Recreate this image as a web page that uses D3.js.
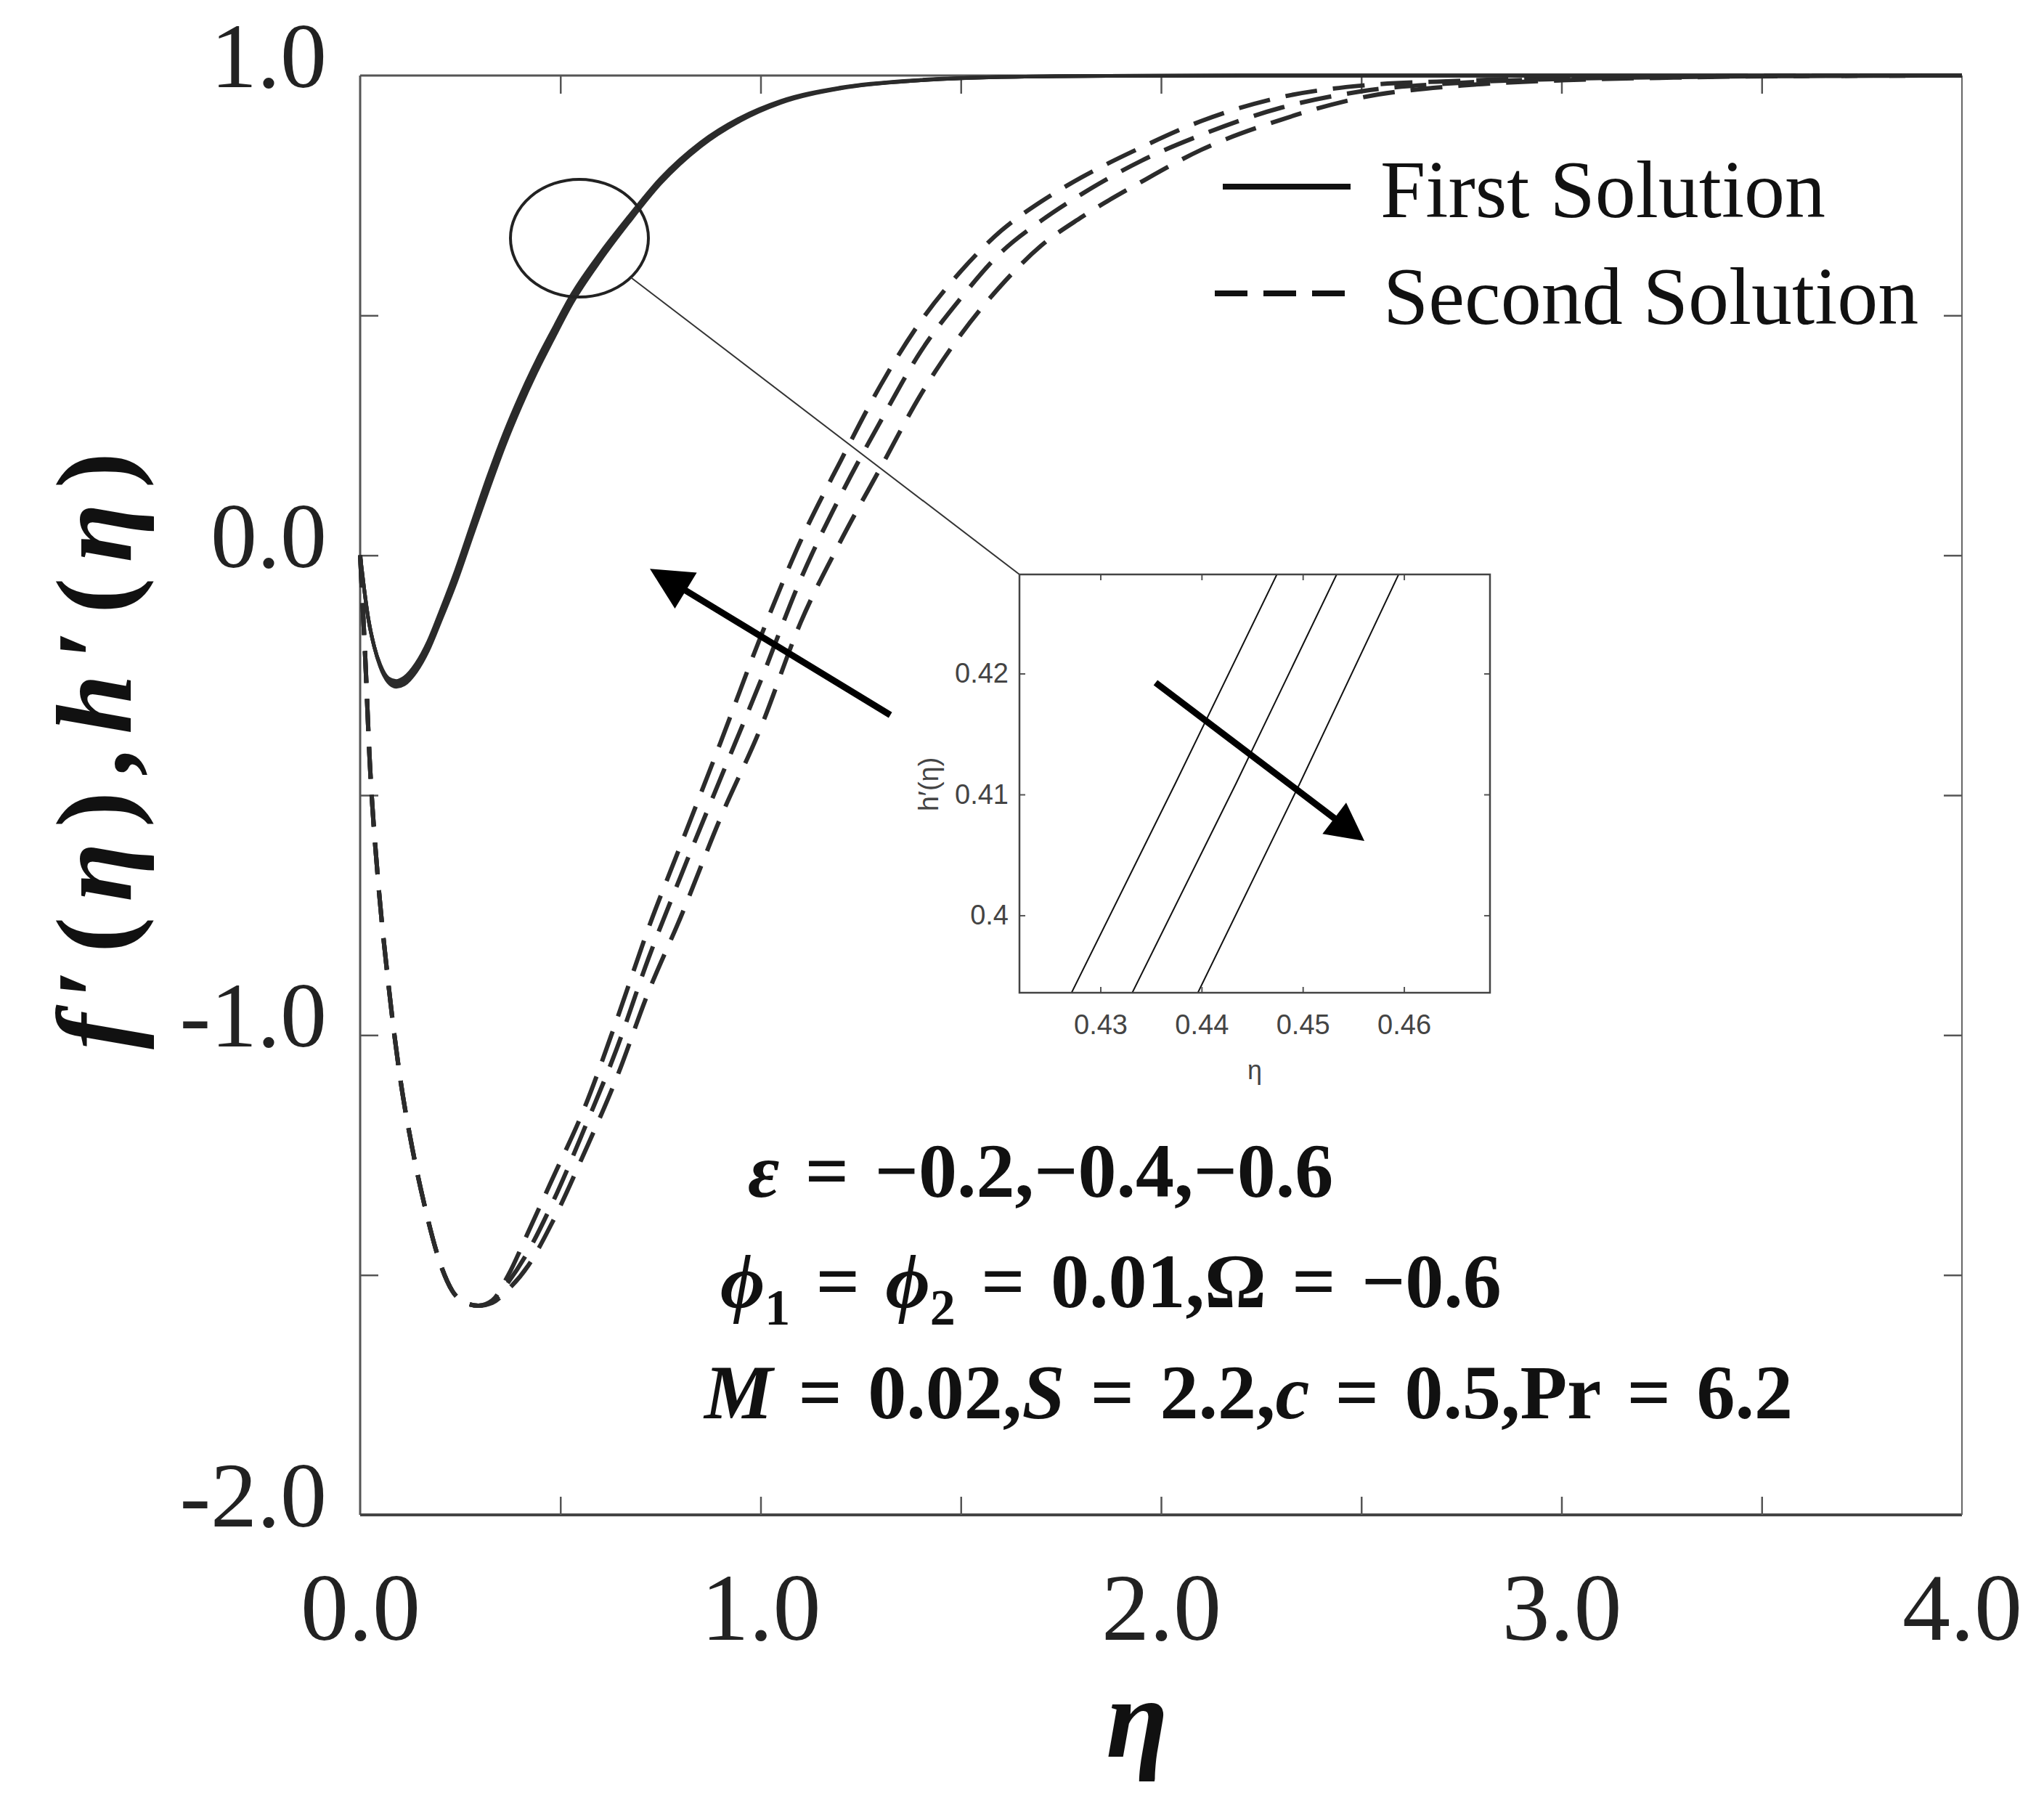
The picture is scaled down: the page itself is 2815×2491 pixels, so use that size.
<!DOCTYPE html>
<html>
<head>
<meta charset="utf-8">
<script src="https://cdnjs.cloudflare.com/ajax/libs/d3/7.8.5/d3.min.js"></script>
<style>
  body { margin: 0; background: #fff; }
  svg { display: block; }
</style>
</head>
<body>
<div id="chart"></div>
<script>
// Values (eta on x, f'(eta), h'(eta) on y)

// first solution, eta grid shared by the three solid curves
const etaFirst = [0, 0.01, 0.02, 0.035, 0.05, 0.07, 0.09, 0.11, 0.14, 0.17, 0.2, 0.24, 0.28, 0.32, 0.36, 0.4, 0.44, 0.48, 0.53, 0.6, 0.67, 0.75, 0.85, 0.95, 1.05, 1.2, 1.4, 1.6, 1.8, 2.2, 4.0];
const firstEpsA = [0, -0.07, -0.13, -0.19, -0.228, -0.256, -0.262, -0.255, -0.226, -0.18, -0.118, -0.03, 0.068, 0.165, 0.254, 0.333, 0.404, 0.468, 0.545, 0.63, 0.705, 0.785, 0.86, 0.912, 0.947, 0.975, 0.991, 0.997, 0.999, 1.0, 1.0];
const firstEpsB = [0, -0.07, -0.13, -0.19, -0.23, -0.26, -0.268, -0.262, -0.234, -0.189, -0.128, -0.042, 0.055, 0.151, 0.241, 0.321, 0.393, 0.458, 0.536, 0.622, 0.699, 0.78, 0.856, 0.909, 0.945, 0.974, 0.99, 0.997, 0.999, 1.0, 1.0];
const firstEpsC = [0, -0.07, -0.13, -0.19, -0.232, -0.264, -0.274, -0.269, -0.242, -0.198, -0.138, -0.054, 0.042, 0.137, 0.228, 0.309, 0.382, 0.448, 0.527, 0.615, 0.693, 0.775, 0.852, 0.906, 0.943, 0.973, 0.99, 0.997, 0.999, 1.0, 1.0];

// second solution, eta grid shared by the three dashed curves
const etaSecond = [0, 0.006, 0.012, 0.024, 0.044, 0.068, 0.1, 0.13, 0.16, 0.2, 0.23, 0.26, 0.295, 0.33, 0.37, 0.42, 0.48, 0.56, 0.64, 0.72, 0.8, 0.9, 1.0, 1.1, 1.2, 1.3, 1.4, 1.5, 1.6, 1.7, 1.8, 1.95, 2.1, 2.3, 2.5, 2.75, 3.0, 3.3, 3.6, 4.0];
const secondEpsA = [0, -0.1, -0.2, -0.43, -0.67, -0.874, -1.09, -1.235, -1.352, -1.476, -1.533, -1.557, -1.564, -1.553, -1.5, -1.41, -1.3, -1.152, -0.97, -0.777, -0.605, -0.39, -0.17, 0.03, 0.197, 0.355, 0.488, 0.592, 0.676, 0.737, 0.787, 0.85, 0.905, 0.955, 0.979, 0.989, 0.995, 0.998, 1.0, 1.0];
const secondEpsB = [0, -0.1, -0.2, -0.43, -0.67, -0.874, -1.09, -1.235, -1.352, -1.476, -1.533, -1.557, -1.564, -1.556, -1.515, -1.45, -1.35, -1.195, -1.03, -0.84, -0.67, -0.465, -0.262, -0.05, 0.125, 0.28, 0.425, 0.536, 0.631, 0.697, 0.752, 0.822, 0.876, 0.933, 0.967, 0.985, 0.993, 0.997, 0.999, 1.0];
const secondEpsC = [0, -0.1, -0.2, -0.43, -0.67, -0.874, -1.09, -1.235, -1.352, -1.476, -1.533, -1.557, -1.564, -1.558, -1.53, -1.48, -1.39, -1.245, -1.09, -0.91, -0.755, -0.547, -0.36, -0.14, 0.03, 0.183, 0.335, 0.46, 0.562, 0.645, 0.704, 0.778, 0.845, 0.908, 0.954, 0.979, 0.99, 0.996, 0.999, 1.0];

// zoomed inset: h'(eta) near eta = 0.44
const etaInsetA = [0.4262, 0.4374, 0.4486];
const etaInsetB = [0.4322, 0.4434, 0.4545];
const etaInsetC = [0.4387, 0.4497, 0.4606];
const hInset = [0.392, 0.4109, 0.4302];

// axis ticks
const xTicks = [0, 1, 2, 3, 4];
const xTickLabels = ["0.0", "1.0", "2.0", "3.0", "4.0"];
const xMarks = [0.5, 1, 1.5, 2, 2.5, 3, 3.5];
const yTicks = [-2, -1, 0, 1];
const yTickLabels = ["-2.0", "-1.0", "0.0", "1.0"];
const yMarks = [-1.5, -1, -0.5, 0, 0.5];
const insetXTicks = [0.43, 0.44, 0.45, 0.46];
const insetYTicks = [0.4, 0.41, 0.42];
const legendLabels = ["First Solution", "Second Solution"];

// Set dimensions and margins for the plot
const width = 2815, height = 2491;
const margin = {top: 104, right: 113, bottom: 405, left: 496};
const serif = "'Liberation Serif', 'Times New Roman', serif";
const sans = "'Liberation Sans', Arial, sans-serif";
const ink = "#2b2b2b";
const sp = "\u2004"; // slightly wider space used around "=" in the parameter block

const svg = d3.select("#chart")
  .append("svg")
  .attr("width", width)
  .attr("height", height)
  .style("background", "#fff");

// scales
const x = d3.scaleLinear().domain([0, 4]).range([margin.left, width - margin.right]);
const y = d3.scaleLinear().domain([-2, 1]).range([height - margin.bottom, margin.top]);

/*
  Frame and ticks (all ticks point inward, like the original)
*/
const x0 = x(0), x1 = x(4), yb = y(-2), yt = y(1);

svg.append("line").attr("x1", x0).attr("x2", x0).attr("y1", yt).attr("y2", yb)
  .attr("stroke", "#555").attr("stroke-width", 3);
svg.append("line").attr("x1", x0).attr("x2", x1).attr("y1", yb).attr("y2", yb)
  .attr("stroke", "#444").attr("stroke-width", 4);
svg.append("line").attr("x1", x1).attr("x2", x1).attr("y1", yt).attr("y2", yb)
  .attr("stroke", "#666").attr("stroke-width", 2);
svg.append("line").attr("x1", x0).attr("x2", x1).attr("y1", yt).attr("y2", yt)
  .attr("stroke", "#555").attr("stroke-width", 3);

function tickMarks(axis, tx, ty) {
  const g = svg.append("g")
    .attr("transform", `translate(${tx},${ty})`)
    .call(axis.tickSize(-25).tickFormat(""));
  g.select(".domain").remove();
  g.selectAll(".tick line").attr("stroke", "#555").attr("stroke-width", 2.5);
}
tickMarks(d3.axisBottom(x).tickValues(xMarks), 0, yb);
tickMarks(d3.axisTop(x).tickValues(xMarks), 0, yt);
tickMarks(d3.axisLeft(y).tickValues(yMarks), x0, 0);
tickMarks(d3.axisRight(y).tickValues(yMarks), x1, 0);

// tick labels
const xLab = svg.append("g")
  .attr("transform", `translate(0,${yb})`)
  .call(d3.axisBottom(x).tickValues(xTicks).tickSize(0).tickPadding(78)
        .tickFormat((d, i) => xTickLabels[i]));
xLab.select(".domain").remove();
xLab.selectAll("text").attr("font-family", serif).attr("font-size", 132).attr("fill", "#222");

const yLab = svg.append("g")
  .attr("transform", `translate(${x0},0)`)
  .call(d3.axisLeft(y).tickValues(yTicks).tickSize(0).tickPadding(46)
        .tickFormat((d, i) => yTickLabels[i]));
yLab.select(".domain").remove();
yLab.selectAll("text").attr("font-family", serif).attr("font-size", 128)
  .attr("fill", "#222").attr("dy", "0.12em");

// axis titles
svg.append("text")
  .attr("x", 1566).attr("y", 2420)
  .attr("text-anchor", "middle")
  .attr("font-family", serif).attr("font-size", 156)
  .attr("font-style", "italic").attr("font-weight", "bold")
  .attr("fill", "#111")
  .text("η");

const yTitle = svg.append("text")
  .attr("transform", "translate(180,1034) rotate(-90)")
  .attr("text-anchor", "middle")
  .attr("font-family", serif).attr("font-size", 148)
  .attr("font-weight", "bold").attr("fill", "#111")
  .attr("textLength", 822).attr("lengthAdjust", "spacing");
[["f", true], ["′(", false], ["η", true], ["),", false], ["h", true], ["′(", false], ["η", true], [")", false]]
  .forEach(([t, it]) => yTitle.append("tspan").attr("font-style", it ? "italic" : "normal").text(t));

/*
  Curves
*/
const line = d3.line()
  .x(d => x(d[0]))
  .y(d => y(d[1]))
  .curve(d3.curveMonotoneX);

const firstSeries = [firstEpsA, firstEpsB, firstEpsC];
const secondSeries = [secondEpsA, secondEpsB, secondEpsC];

svg.append("g").selectAll("path")
  .data(secondSeries)
  .enter().append("path")
  .attr("d", vals => line(etaSecond.map((e, i) => [e, vals[i]])))
  .attr("fill", "none")
  .attr("stroke", ink)
  .attr("stroke-width", 6)
  .attr("stroke-dasharray", "44,22");

svg.append("g").selectAll("path")
  .data(firstSeries)
  .enter().append("path")
  .attr("d", vals => line(etaFirst.map((e, i) => [e, vals[i]])))
  .attr("fill", "none")
  .attr("stroke", ink)
  .attr("stroke-width", 5);

/*
  Legend
*/
const legendY = [257, 404];
const legend = svg.append("g");
legend.append("line").attr("x1", 1684).attr("x2", 1860).attr("y1", legendY[0]).attr("y2", legendY[0])
  .attr("stroke", "#111").attr("stroke-width", 8);
legend.append("line").attr("x1", 1673).attr("x2", 1860).attr("y1", legendY[1]).attr("y2", legendY[1])
  .attr("stroke", "#111").attr("stroke-width", 8).attr("stroke-dasharray", "45,22");
legend.selectAll("text")
  .data(legendLabels)
  .enter().append("text")
  .attr("x", (d, i) => i === 0 ? 1901 : 1905)
  .attr("y", (d, i) => legendY[i] + 42)
  .attr("font-family", serif).attr("font-size", 112)
  .attr("fill", "#111")
  .text(d => d);

/*
  Zoom circle, connector and inset
*/
const circ = {eta: 0.5476, val: 0.661, rx: 95, ry: 81};
svg.append("ellipse")
  .attr("cx", x(circ.eta)).attr("cy", y(circ.val))
  .attr("rx", circ.rx).attr("ry", circ.ry)
  .attr("fill", "none").attr("stroke", "#222").attr("stroke-width", 4);

const inset = {left: 1404, top: 791, right: 2052, bottom: 1367};

// connector from the circle edge to the inset corner
{
  const cx = x(circ.eta), cy = y(circ.val);
  const dx = inset.left - cx, dy = inset.top - cy;
  const t = 1 / Math.sqrt((dx / circ.rx) ** 2 + (dy / circ.ry) ** 2);
  svg.append("line")
    .attr("x1", cx + dx * t).attr("y1", cy + dy * t)
    .attr("x2", inset.left).attr("y2", inset.top)
    .attr("stroke", "#333").attr("stroke-width", 2);
}

const ix = d3.scaleLinear().domain([0.422, 0.4685]).range([inset.left, inset.right]);
const iy = d3.scaleLinear().domain([0.3936, 0.4282]).range([inset.bottom, inset.top]);

const ig = svg.append("g");
ig.append("rect")
  .attr("x", inset.left).attr("y", inset.top)
  .attr("width", inset.right - inset.left).attr("height", inset.bottom - inset.top)
  .attr("fill", "#fff");

ig.append("clipPath").attr("id", "insetClip")
  .append("rect")
  .attr("x", inset.left).attr("y", inset.top)
  .attr("width", inset.right - inset.left).attr("height", inset.bottom - inset.top);

const iline = d3.line().x(d => ix(d[0])).y(d => iy(d[1]));
ig.append("g").attr("clip-path", "url(#insetClip)")
  .selectAll("path")
  .data([etaInsetA, etaInsetB, etaInsetC])
  .enter().append("path")
  .attr("d", etas => iline(etas.map((e, i) => [e, hInset[i]])))
  .attr("fill", "none").attr("stroke", "#111").attr("stroke-width", 2);

function insetTicks(axis, tx, ty, labels) {
  const g = ig.append("g")
    .attr("transform", `translate(${tx},${ty})`)
    .call(axis);
  g.select(".domain").remove();
  g.selectAll(".tick line").attr("stroke", "#555").attr("stroke-width", 2);
  g.selectAll("text").attr("font-family", sans).attr("font-size", 38).attr("fill", "#444");
  if (!labels) g.selectAll("text").remove();
  return g;
}
insetTicks(d3.axisBottom(ix).tickValues(insetXTicks).tickSize(-8).tickPadding(30).tickFormat(d => String(d)), 0, inset.bottom, true);
insetTicks(d3.axisTop(ix).tickValues(insetXTicks).tickSize(-8), 0, inset.top, false);
insetTicks(d3.axisLeft(iy).tickValues(insetYTicks).tickSize(-8).tickPadding(15).tickFormat(d => String(d)), inset.left, 0, true);
insetTicks(d3.axisRight(iy).tickValues(insetYTicks).tickSize(-8), inset.right, 0, false);

ig.append("rect")
  .attr("x", inset.left).attr("y", inset.top)
  .attr("width", inset.right - inset.left).attr("height", inset.bottom - inset.top)
  .attr("fill", "none").attr("stroke", "#444").attr("stroke-width", 2.5);

ig.append("text")
  .attr("x", (inset.left + inset.right) / 2).attr("y", 1486)
  .attr("text-anchor", "middle")
  .attr("font-family", sans).attr("font-size", 36).attr("fill", "#444")
  .text("η");
ig.append("text")
  .attr("transform", "translate(1292,1080) rotate(-90)")
  .attr("text-anchor", "middle")
  .attr("font-family", sans).attr("font-size", 38).attr("fill", "#444")
  .text("h′(η)");

/*
  Arrows
*/
function arrow(x1, y1, x2, y2, w, hl, hw) {
  const a = Math.atan2(y2 - y1, x2 - x1);
  const bx = x2 - hl * Math.cos(a), by = y2 - hl * Math.sin(a);
  svg.append("line")
    .attr("x1", x1).attr("y1", y1).attr("x2", bx + 4 * Math.cos(a)).attr("y2", by + 4 * Math.sin(a))
    .attr("stroke", "#000").attr("stroke-width", w);
  svg.append("polygon")
    .attr("points", [[x2, y2],
                     [bx + hw * Math.sin(a), by - hw * Math.cos(a)],
                     [bx - hw * Math.sin(a), by + hw * Math.cos(a)]].map(p => p.join(",")).join(" "))
    .attr("fill", "#000");
}
const mainArrow = {from: [1.324, -0.333], to: [0.7235, -0.028]};
arrow(x(mainArrow.from[0]), y(mainArrow.from[1]), x(mainArrow.to[0]), y(mainArrow.to[1]), 9, 58, 29);
const insetArrow = {from: [0.43545, 0.41925], to: [0.45609, 0.40615]};
arrow(ix(insetArrow.from[0]), iy(insetArrow.from[1]), ix(insetArrow.to[0]), iy(insetArrow.to[1]), 9, 52, 27);

/*
  Parameter block
*/
const paramLines = [
  {x: 1030, y: 1648, parts: [["ε", "i"], [sp + "=" + sp + "−0.2,−0.4,−0.6", "n"]]},
  {x: 992, y: 1800, parts: [["ϕ", "i"], ["1", "s"], [sp + "=" + sp, "n"], ["ϕ", "i"], ["2", "s"], [sp + "=" + sp + "0.01,Ω" + sp + "=" + sp + "−0.6", "n"]]},
  {x: 970, y: 1953, parts: [["M", "i"], [sp + "=" + sp + "0.02,", "n"], ["S", "i"], [sp + "=" + sp + "2.2,", "n"], ["c", "i"], [sp + "=" + sp + "0.5,Pr" + sp + "=" + sp + "6.2", "n"]]}
];
paramLines.forEach(pl => {
  const t = svg.append("text")
    .attr("x", pl.x).attr("y", pl.y)
    .attr("font-family", serif).attr("font-size", 106)
    .attr("font-weight", "bold").attr("fill", "#111");
  let sub = false;
  pl.parts.forEach(([s, k]) => {
    const ts = t.append("tspan").text(s);
    if (k === "i") ts.attr("font-style", "italic");
    if (k === "s") { ts.attr("font-size", 70).attr("dy", 24); sub = true; }
    else if (sub) { ts.attr("dy", -24); sub = false; }
  });
});
</script>
</body>
</html>
